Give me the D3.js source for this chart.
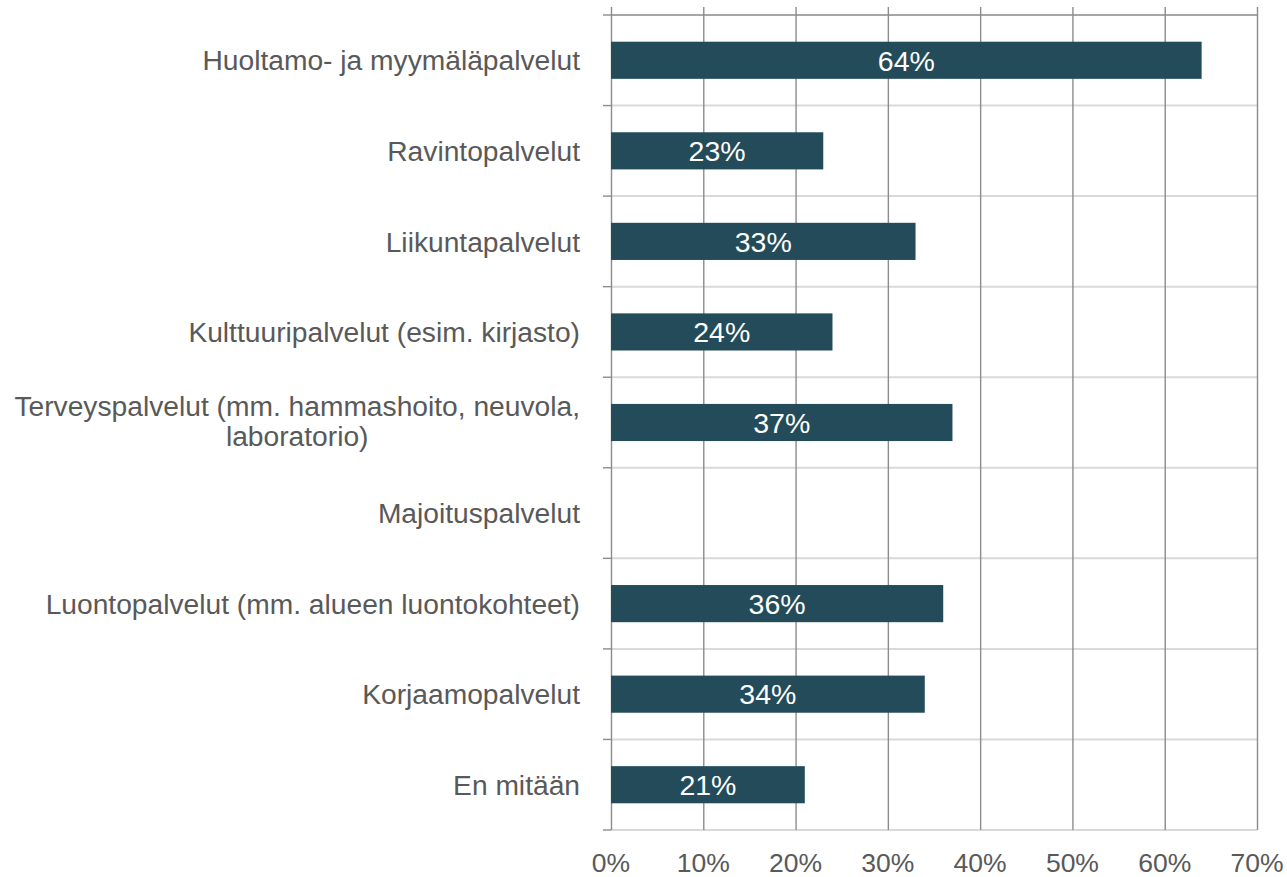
<!DOCTYPE html>
<html>
<head>
<meta charset="utf-8">
<script src="https://cdn.jsdelivr.net/npm/d3@7"></script>
<style>
  body { margin: 0; background: #fff; }
  text { font-family: "Liberation Sans", Arial, sans-serif; }
</style>
</head>
<body>
<div id="chart"></div>
<script>
// data
const categories = [
  "Huoltamo- ja myymäläpalvelut",
  "Ravintopalvelut",
  "Liikuntapalvelut",
  "Kulttuuripalvelut (esim. kirjasto)",
  "Terveyspalvelut (mm. hammashoito, neuvola,\nlaboratorio)",
  "Majoituspalvelut",
  "Luontopalvelut (mm. alueen luontokohteet)",
  "Korjaamopalvelut",
  "En mitään"
];
const values = [0.64, 0.23, 0.33, 0.24, 0.37, 0, 0.36, 0.34, 0.21];
const xTicks = [0, 0.1, 0.2, 0.3, 0.4, 0.5, 0.6, 0.7];

const dims = { width: 1287, height: 877 };
const plot = { left: 611, right: 1257, top: 15, bottom: 830, gridTop: 7 };

const barColor = "#234b5a";
const textColor = "#595959";

const svg = d3
  .select("#chart")
  .append("svg")
  .attr("width", dims.width)
  .attr("height", dims.height);

const xScale = d3.scaleLinear().domain([0, 0.7]).range([plot.left, plot.right]);

// band for category slots, and one for bars inside them
const yBand = d3.scaleBand().domain(categories).range([plot.top, plot.bottom]);
const yBar = d3
  .scaleBand()
  .domain(categories)
  .range([plot.top, plot.bottom])
  .paddingInner(0.59)
  .paddingOuter(0.295);

// horizontal separators
const edges = categories.map(c => yBand(c)).concat([plot.bottom]);
svg
  .append("g")
  .selectAll("line")
  .data(edges)
  .enter()
  .append("line")
  .attr("x1", plot.left)
  .attr("x2", plot.right)
  .attr("y1", d => d)
  .attr("y2", d => d)
  .attr("stroke", (d, i) => (i === 0 ? "#a6a6a6" : "#d9d9d9"))
  .attr("stroke-width", 2);

// vertical gridlines
const xGrid = d3
  .axisBottom(xScale)
  .tickValues(xTicks)
  .tickSize(plot.bottom - plot.gridTop)
  .tickFormat("");
svg
  .append("g")
  .attr("transform", `translate(0, ${plot.gridTop})`)
  .call(xGrid)
  .call(g => g.select(".domain").remove())
  .call(g => g.selectAll("line").attr("stroke", "#8c8c8c").attr("stroke-width", 1.4));

// left ticks
svg
  .append("g")
  .selectAll("line")
  .data(edges)
  .enter()
  .append("line")
  .attr("x1", plot.left - 8)
  .attr("x2", plot.left)
  .attr("y1", d => d)
  .attr("y2", d => d)
  .attr("stroke", "#8c8c8c")
  .attr("stroke-width", 1.4);

// bars
svg
  .append("g")
  .selectAll("rect")
  .data(values)
  .enter()
  .append("rect")
  .attr("x", xScale(0))
  .attr("y", (d, i) => yBar(categories[i]))
  .attr("width", d => xScale(d) - xScale(0))
  .attr("height", yBar.bandwidth())
  .attr("fill", barColor);

// value labels
svg
  .append("g")
  .selectAll("text")
  .data(values.map((v, i) => ({ v, c: categories[i] })).filter(d => d.v > 0))
  .enter()
  .append("text")
  .attr("x", d => (xScale(d.v) + xScale(0)) / 2)
  .attr("y", d => yBand(d.c) + yBand.bandwidth() / 2)
  .attr("dy", "0.36em")
  .attr("text-anchor", "middle")
  .attr("fill", "#fff")
  .style("font-size", "28.5px")
  .text(d => Math.round(d.v * 100) + "%");

// category labels
const labelX = 580;
const lineH = 30;
const labels = svg
  .append("g")
  .selectAll("text")
  .data(categories)
  .enter()
  .append("text")
  .attr("fill", textColor)
  .style("font-size", "28.2px")
  .each(function(c) {
    const lines = c.split("\n");
    const t = d3.select(this);
    const cy = yBand(c) + yBand.bandwidth() / 2;
    const shift = lines.length > 1 ? -1.5 : 0;
    lines.forEach((ln, k) => {
      t.append("tspan")
        .attr("y", cy + shift + (k - (lines.length - 1) / 2) * lineH)
        .attr("dy", "0.36em")
        .text(ln);
    });
    // centre lines inside a block right-aligned at labelX
    const spans = t.selectAll("tspan").nodes();
    const widest = d3.max(spans, s => s.getComputedTextLength());
    const mid = labelX - widest / 2;
    t.selectAll("tspan").attr("x", mid).attr("text-anchor", "middle");
  });

// x tick labels
svg
  .append("g")
  .selectAll("text")
  .data(xTicks)
  .enter()
  .append("text")
  .attr("x", d => xScale(d))
  .attr("y", 862)
  .attr("dy", "0.36em")
  .attr("text-anchor", "middle")
  .attr("fill", textColor)
  .style("font-size", "26.5px")
  .text(d3.format(".0%"));
</script>
</body>
</html>
